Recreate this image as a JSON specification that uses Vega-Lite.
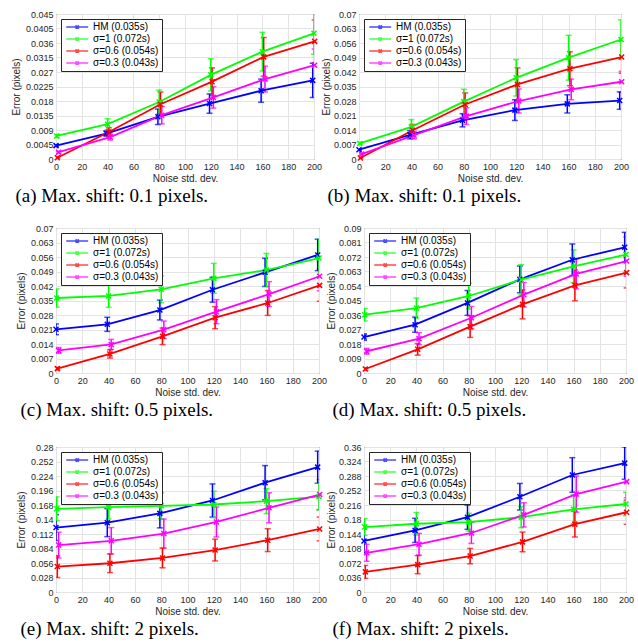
{
"$schema": "https://vega.github.io/schema/vega-lite/v6.json",
"padding": {"left": 10, "top": 9, "right": 0, "bottom": 0},
"background": "white",
"config": {
 "font": "Liberation Sans",
 "view": {"stroke": "#262626", "strokeWidth": 1},
 "axis": {"domain": false, "ticks": false, "grid": true, "gridColor": "#e3e3e3", "gridWidth": 1, "labelFont": "Liberation Sans", "labelFontSize": 9, "labelColor": "#262626", "labelPadding": 3, "labelOverlap": false, "labelFlush": false, "titleFont": "Liberation Sans", "titleFontSize": 10, "titleFontWeight": "normal", "titleColor": "#262626"},
 "axisX": {"titlePadding": 2, "values": [0,20,40,60,80,100,120,140,160,180,200], "format": "d"},
 "axisY": {"titlePadding": 4, "format": ".6~g"},
 "legend": {"orient": "top-left", "offset": 5, "fillColor": "white", "strokeColor": "#262626", "padding": 3, "labelFont": "Liberation Sans", "labelFontSize": 10, "labelColor": "black", "symbolType": "M-1,0H7M2.4,-0.6L3.6,0.6M2.4,0.6L3.6,-0.6", "symbolSize": 30, "symbolStrokeWidth": 1.6, "rowPadding": 2, "labelOffset": 19},
 "title": {"orient": "bottom", "anchor": "start", "frame": "bounds", "font": "Liberation Serif", "fontSize": 19, "fontWeight": "normal", "color": "black", "offset": 4}
},
"datasets": {
 "a": [
  {"s":"HM (0.035s)","x":0,"y":0.00415,"e":0.0003},{"s":"HM (0.035s)","x":39,"y":0.0079,"e":0.0008},{"s":"HM (0.035s)","x":79,"y":0.0131,"e":0.0024},{"s":"HM (0.035s)","x":119,"y":0.0172,"e":0.003},{"s":"HM (0.035s)","x":159,"y":0.0212,"e":0.0036},{"s":"HM (0.035s)","x":199,"y":0.0244,"e":0.0053},
  {"s":"σ=1 (0.072s)","x":0.5,"y":0.00715,"e":0.0005},{"s":"σ=1 (0.072s)","x":40,"y":0.0108,"e":0.0017},{"s":"σ=1 (0.072s)","x":80,"y":0.0177,"e":0.0037},{"s":"σ=1 (0.072s)","x":120,"y":0.0261,"e":0.005},{"s":"σ=1 (0.072s)","x":160,"y":0.0333,"e":0.006},{"s":"σ=1 (0.072s)","x":200,"y":0.039,"e":0.0065},
  {"s":"σ=0.6 (0.054s)","x":1,"y":0.0004,"e":0.0002},{"s":"σ=0.6 (0.054s)","x":41,"y":0.0084,"e":0.0013},{"s":"σ=0.6 (0.054s)","x":81,"y":0.017,"e":0.0038},{"s":"σ=0.6 (0.054s)","x":121,"y":0.024,"e":0.0043},{"s":"σ=0.6 (0.054s)","x":161,"y":0.0317,"e":0.006},{"s":"σ=0.6 (0.054s)","x":200.5,"y":0.0365,"e":0.0066},
  {"s":"σ=0.3 (0.043s)","x":2,"y":0.0021,"e":0.0003},{"s":"σ=0.3 (0.043s)","x":42,"y":0.0068,"e":0.0009},{"s":"σ=0.3 (0.043s)","x":82,"y":0.0136,"e":0.0027},{"s":"σ=0.3 (0.043s)","x":122,"y":0.0191,"e":0.0033},{"s":"σ=0.3 (0.043s)","x":162,"y":0.0248,"e":0.004},{"s":"σ=0.3 (0.043s)","x":200.5,"y":0.0291,"e":0.005}
 ],
 "b": [
  {"s":"HM (0.035s)","x":0,"y":0.0045,"e":0.0004},{"s":"HM (0.035s)","x":39,"y":0.0117,"e":0.002},{"s":"HM (0.035s)","x":79,"y":0.0187,"e":0.0032},{"s":"HM (0.035s)","x":119,"y":0.0236,"e":0.005},{"s":"HM (0.035s)","x":159,"y":0.0266,"e":0.0044},{"s":"HM (0.035s)","x":199,"y":0.0282,"e":0.0042},
  {"s":"σ=1 (0.072s)","x":0.5,"y":0.0075,"e":0.0005},{"s":"σ=1 (0.072s)","x":40,"y":0.0155,"e":0.0035},{"s":"σ=1 (0.072s)","x":80,"y":0.0277,"e":0.006},{"s":"σ=1 (0.072s)","x":120,"y":0.0392,"e":0.0088},{"s":"σ=1 (0.072s)","x":160,"y":0.0489,"e":0.0108},{"s":"σ=1 (0.072s)","x":200,"y":0.0577,"e":0.0095},
  {"s":"σ=0.6 (0.054s)","x":1,"y":0.0005,"e":0.0003},{"s":"σ=0.6 (0.054s)","x":41,"y":0.0139,"e":0.0028},{"s":"σ=0.6 (0.054s)","x":81,"y":0.0263,"e":0.0056},{"s":"σ=0.6 (0.054s)","x":121,"y":0.036,"e":0.008},{"s":"σ=0.6 (0.054s)","x":161,"y":0.0436,"e":0.0082},{"s":"σ=0.6 (0.054s)","x":200.5,"y":0.0492,"e":0.0078},
  {"s":"σ=0.3 (0.043s)","x":2,"y":0.0024,"e":0.0004},{"s":"σ=0.3 (0.043s)","x":42,"y":0.0115,"e":0.0018},{"s":"σ=0.3 (0.043s)","x":82,"y":0.0207,"e":0.004},{"s":"σ=0.3 (0.043s)","x":122,"y":0.028,"e":0.0058},{"s":"σ=0.3 (0.043s)","x":162,"y":0.0336,"e":0.005},{"s":"σ=0.3 (0.043s)","x":200.5,"y":0.0373,"e":0.005}
 ],
 "c": [
  {"s":"HM (0.035s)","x":0,"y":0.0211,"e":0.0026},{"s":"HM (0.035s)","x":39,"y":0.0235,"e":0.0034},{"s":"HM (0.035s)","x":79,"y":0.0304,"e":0.0048},{"s":"HM (0.035s)","x":119,"y":0.0402,"e":0.006},{"s":"HM (0.035s)","x":159,"y":0.0486,"e":0.0068},{"s":"HM (0.035s)","x":199,"y":0.057,"e":0.0076},
  {"s":"σ=1 (0.072s)","x":0.5,"y":0.0362,"e":0.0044},{"s":"σ=1 (0.072s)","x":40,"y":0.0372,"e":0.0055},{"s":"σ=1 (0.072s)","x":80,"y":0.0404,"e":0.0065},{"s":"σ=1 (0.072s)","x":120,"y":0.0457,"e":0.0072},{"s":"σ=1 (0.072s)","x":160,"y":0.0497,"e":0.008},{"s":"σ=1 (0.072s)","x":200,"y":0.0555,"e":0.009},
  {"s":"σ=0.6 (0.054s)","x":1,"y":0.0021,"e":0.0006},{"s":"σ=0.6 (0.054s)","x":41,"y":0.0092,"e":0.002},{"s":"σ=0.6 (0.054s)","x":81,"y":0.0177,"e":0.004},{"s":"σ=0.6 (0.054s)","x":121,"y":0.0267,"e":0.0053},{"s":"σ=0.6 (0.054s)","x":161,"y":0.0338,"e":0.006},{"s":"σ=0.6 (0.054s)","x":200.5,"y":0.0423,"e":0.0077},
  {"s":"σ=0.3 (0.043s)","x":2,"y":0.0109,"e":0.0014},{"s":"σ=0.3 (0.043s)","x":42,"y":0.0138,"e":0.0024},{"s":"σ=0.3 (0.043s)","x":82,"y":0.0209,"e":0.0042},{"s":"σ=0.3 (0.043s)","x":122,"y":0.0296,"e":0.0058},{"s":"σ=0.3 (0.043s)","x":162,"y":0.0381,"e":0.006},{"s":"σ=0.3 (0.043s)","x":200.5,"y":0.0467,"e":0.007}
 ],
 "d": [
  {"s":"HM (0.035s)","x":0,"y":0.0223,"e":0.002},{"s":"HM (0.035s)","x":39,"y":0.03,"e":0.0047},{"s":"HM (0.035s)","x":79,"y":0.0435,"e":0.0077},{"s":"HM (0.035s)","x":119,"y":0.0581,"e":0.0083},{"s":"HM (0.035s)","x":159,"y":0.0703,"e":0.0098},{"s":"HM (0.035s)","x":199,"y":0.078,"e":0.0093},
  {"s":"σ=1 (0.072s)","x":0.5,"y":0.0362,"e":0.0039},{"s":"σ=1 (0.072s)","x":40,"y":0.0403,"e":0.0062},{"s":"σ=1 (0.072s)","x":80,"y":0.0478,"e":0.008},{"s":"σ=1 (0.072s)","x":120,"y":0.0579,"e":0.0094},{"s":"σ=1 (0.072s)","x":160,"y":0.0662,"e":0.0102},{"s":"σ=1 (0.072s)","x":200,"y":0.0735,"e":0.011},
  {"s":"σ=0.6 (0.054s)","x":1,"y":0.0025,"e":0.0007},{"s":"σ=0.6 (0.054s)","x":41,"y":0.0147,"e":0.0036},{"s":"σ=0.6 (0.054s)","x":81,"y":0.0288,"e":0.0067},{"s":"σ=0.6 (0.054s)","x":121,"y":0.0426,"e":0.009},{"s":"σ=0.6 (0.054s)","x":161,"y":0.0544,"e":0.0096},{"s":"σ=0.6 (0.054s)","x":200.5,"y":0.0623,"e":0.0095},
  {"s":"σ=0.3 (0.043s)","x":2,"y":0.0135,"e":0.0018},{"s":"σ=0.3 (0.043s)","x":42,"y":0.0213,"e":0.0037},{"s":"σ=0.3 (0.043s)","x":82,"y":0.0343,"e":0.007},{"s":"σ=0.3 (0.043s)","x":122,"y":0.0486,"e":0.0076},{"s":"σ=0.3 (0.043s)","x":162,"y":0.0615,"e":0.0093},{"s":"σ=0.3 (0.043s)","x":200.5,"y":0.0695,"e":0.0095}
 ],
 "e": [
  {"s":"HM (0.035s)","x":0,"y":0.1244,"e":0.025},{"s":"HM (0.035s)","x":39,"y":0.1339,"e":0.027},{"s":"HM (0.035s)","x":79,"y":0.1518,"e":0.028},{"s":"HM (0.035s)","x":119,"y":0.1767,"e":0.032},{"s":"HM (0.035s)","x":159,"y":0.2111,"e":0.033},{"s":"HM (0.035s)","x":199,"y":0.2411,"e":0.031},
  {"s":"σ=1 (0.072s)","x":0.5,"y":0.1607,"e":0.023},{"s":"σ=1 (0.072s)","x":40,"y":0.1639,"e":0.023},{"s":"σ=1 (0.072s)","x":80,"y":0.1665,"e":0.025},{"s":"σ=1 (0.072s)","x":120,"y":0.169,"e":0.0255},{"s":"σ=1 (0.072s)","x":160,"y":0.1754,"e":0.024},{"s":"σ=1 (0.072s)","x":200,"y":0.1843,"e":0.026},
  {"s":"σ=0.6 (0.054s)","x":1,"y":0.0491,"e":0.021},{"s":"σ=0.6 (0.054s)","x":41,"y":0.0555,"e":0.018},{"s":"σ=0.6 (0.054s)","x":81,"y":0.0657,"e":0.019},{"s":"σ=0.6 (0.054s)","x":121,"y":0.081,"e":0.021},{"s":"σ=0.6 (0.054s)","x":161,"y":0.1001,"e":0.022},{"s":"σ=0.6 (0.054s)","x":200.5,"y":0.1218,"e":0.023},
  {"s":"σ=0.3 (0.043s)","x":2,"y":0.0906,"e":0.025},{"s":"σ=0.3 (0.043s)","x":42,"y":0.0989,"e":0.0255},{"s":"σ=0.3 (0.043s)","x":82,"y":0.1129,"e":0.028},{"s":"σ=0.3 (0.043s)","x":122,"y":0.1352,"e":0.029},{"s":"σ=0.3 (0.043s)","x":162,"y":0.1626,"e":0.029},{"s":"σ=0.3 (0.043s)","x":200.5,"y":0.1882,"e":0.029}
 ],
 "f": [
  {"s":"HM (0.035s)","x":0,"y":0.1268,"e":0.03},{"s":"HM (0.035s)","x":39,"y":0.153,"e":0.03},{"s":"HM (0.035s)","x":79,"y":0.1857,"e":0.03},{"s":"HM (0.035s)","x":119,"y":0.2365,"e":0.033},{"s":"HM (0.035s)","x":159,"y":0.2905,"e":0.043},{"s":"HM (0.035s)","x":199,"y":0.32,"e":0.04},
  {"s":"σ=1 (0.072s)","x":0.5,"y":0.1612,"e":0.021},{"s":"σ=1 (0.072s)","x":40,"y":0.1694,"e":0.028},{"s":"σ=1 (0.072s)","x":80,"y":0.1735,"e":0.022},{"s":"σ=1 (0.072s)","x":120,"y":0.1857,"e":0.026},{"s":"σ=1 (0.072s)","x":160,"y":0.2054,"e":0.036},{"s":"σ=1 (0.072s)","x":200,"y":0.2185,"e":0.029},
  {"s":"σ=0.6 (0.054s)","x":1,"y":0.0499,"e":0.016},{"s":"σ=0.6 (0.054s)","x":41,"y":0.0679,"e":0.0225},{"s":"σ=0.6 (0.054s)","x":81,"y":0.0892,"e":0.019},{"s":"σ=0.6 (0.054s)","x":121,"y":0.1244,"e":0.0245},{"s":"σ=0.6 (0.054s)","x":161,"y":0.1685,"e":0.032},{"s":"σ=0.6 (0.054s)","x":200.5,"y":0.198,"e":0.03},
  {"s":"σ=0.3 (0.043s)","x":2,"y":0.0974,"e":0.021},{"s":"σ=0.3 (0.043s)","x":42,"y":0.1186,"e":0.027},{"s":"σ=0.3 (0.043s)","x":82,"y":0.1465,"e":0.026},{"s":"σ=0.3 (0.043s)","x":122,"y":0.1915,"e":0.03},{"s":"σ=0.3 (0.043s)","x":162,"y":0.243,"e":0.045},{"s":"σ=0.3 (0.043s)","x":200.5,"y":0.2741,"e":0.04}
 ]
},
"resolve": {"scale": {"color": "independent"}, "legend": {"color": "independent"}},
"spacing": 16,
"vconcat": [
 {"hconcat": [
  {"width": 258, "height": 145, "title": {"text": "(a) Max. shift: 0.1 pixels.", "dx": 4}, "data": {"name": "a"},
   "encoding": {"x": {"field": "x", "type": "quantitative", "scale": {"domain": [0,200]}, "axis": {"title": "Noise std. dev."}},
    "y": {"field": "y", "type": "quantitative", "scale": {"domain": [0,0.045]}, "axis": {"title": "Error (pixels)", "values": [0,0.0045,0.009,0.0135,0.018,0.0225,0.027,0.0315,0.036,0.0405,0.045]}},
    "color": {"field": "s", "type": "nominal", "scale": {"domain": ["HM (0.035s)","σ=1 (0.072s)","σ=0.6 (0.054s)","σ=0.3 (0.043s)"], "range": ["#0000ff","#00ff00","#ff0000","#ff00ff"]}, "legend": {"title": null}}},
   "layer": [
    {"mark": {"type": "errorbar", "ticks": {"size": 6}, "thickness": 1.5, "clip": true}, "encoding": {"yError": {"field": "e"}}},
    {"mark": {"type": "line", "strokeWidth": 1.8}},
    {"mark": {"type": "point", "shape": "M-1,-1L1,1M-1,1L1,-1", "size": 25, "strokeWidth": 1.5, "filled": false, "opacity": 1}}
   ]},
  {"width": 262, "height": 145, "title": {"text": "(b) Max. shift: 0.1 pixels.", "dx": 6}, "data": {"name": "b"},
   "encoding": {"x": {"field": "x", "type": "quantitative", "scale": {"domain": [0,200]}, "axis": {"title": "Noise std. dev."}},
    "y": {"field": "y", "type": "quantitative", "scale": {"domain": [0,0.07]}, "axis": {"title": "Error (pixels)", "titlePadding": 2, "values": [0,0.007,0.014,0.021,0.028,0.035,0.042,0.049,0.056,0.063,0.07]}},
    "color": {"field": "s", "type": "nominal", "scale": {"domain": ["HM (0.035s)","σ=1 (0.072s)","σ=0.6 (0.054s)","σ=0.3 (0.043s)"], "range": ["#0000ff","#00ff00","#ff0000","#ff00ff"]}, "legend": {"title": null}}},
   "layer": [
    {"mark": {"type": "errorbar", "ticks": {"size": 6}, "thickness": 1.5, "clip": true}, "encoding": {"yError": {"field": "e"}}},
    {"mark": {"type": "line", "strokeWidth": 1.8}},
    {"mark": {"type": "point", "shape": "M-1,-1L1,1M-1,1L1,-1", "size": 25, "strokeWidth": 1.5, "filled": false, "opacity": 1}}
   ]}
 ], "spacing": -3, "resolve": {"scale": {"color": "independent"}, "legend": {"color": "independent"}}},
 {"spacing": 21, "resolve": {"scale": {"color": "independent"}, "legend": {"color": "independent"}}, "vconcat": [
 {"hconcat": [
  {"width": 263, "height": 145, "title": {"text": "(c) Max. shift: 0.5 pixels.", "dx": 4}, "data": {"name": "c"},
   "encoding": {"x": {"field": "x", "type": "quantitative", "scale": {"domain": [0,200]}, "axis": {"title": "Noise std. dev."}},
    "y": {"field": "y", "type": "quantitative", "scale": {"domain": [0,0.07]}, "axis": {"title": "Error (pixels)", "values": [0,0.007,0.014,0.021,0.028,0.035,0.042,0.049,0.056,0.063,0.07]}},
    "color": {"field": "s", "type": "nominal", "scale": {"domain": ["HM (0.035s)","σ=1 (0.072s)","σ=0.6 (0.054s)","σ=0.3 (0.043s)"], "range": ["#0000ff","#00ff00","#ff0000","#ff00ff"]}, "legend": {"title": null}}},
   "layer": [
    {"mark": {"type": "errorbar", "ticks": {"size": 6}, "thickness": 1.5, "clip": true}, "encoding": {"yError": {"field": "e"}}},
    {"mark": {"type": "line", "strokeWidth": 1.8}},
    {"mark": {"type": "point", "shape": "M-1,-1L1,1M-1,1L1,-1", "size": 25, "strokeWidth": 1.5, "filled": false, "opacity": 1}}
   ]},
  {"width": 262, "height": 145, "title": {"text": "(d) Max. shift: 0.5 pixels.", "dx": 6}, "data": {"name": "d"},
   "encoding": {"x": {"field": "x", "type": "quantitative", "scale": {"domain": [0,200]}, "axis": {"title": "Noise std. dev."}},
    "y": {"field": "y", "type": "quantitative", "scale": {"domain": [0,0.09]}, "axis": {"title": "Error (pixels)", "titlePadding": 2, "values": [0,0.009,0.018,0.027,0.036,0.045,0.054,0.063,0.072,0.081,0.09]}},
    "color": {"field": "s", "type": "nominal", "scale": {"domain": ["HM (0.035s)","σ=1 (0.072s)","σ=0.6 (0.054s)","σ=0.3 (0.043s)"], "range": ["#0000ff","#00ff00","#ff0000","#ff00ff"]}, "legend": {"title": null}}},
   "layer": [
    {"mark": {"type": "errorbar", "ticks": {"size": 6}, "thickness": 1.5, "clip": true}, "encoding": {"yError": {"field": "e"}}},
    {"mark": {"type": "line", "strokeWidth": 1.8}},
    {"mark": {"type": "point", "shape": "M-1,-1L1,1M-1,1L1,-1", "size": 25, "strokeWidth": 1.5, "filled": false, "opacity": 1}}
   ]}
 ], "spacing": -3, "resolve": {"scale": {"color": "independent"}, "legend": {"color": "independent"}}},
 {"hconcat": [
  {"width": 263, "height": 145, "title": {"text": "(e) Max. shift: 2 pixels.", "dx": 4}, "data": {"name": "e"},
   "encoding": {"x": {"field": "x", "type": "quantitative", "scale": {"domain": [0,200]}, "axis": {"title": "Noise std. dev."}},
    "y": {"field": "y", "type": "quantitative", "scale": {"domain": [0,0.28]}, "axis": {"title": "Error (pixels)", "values": [0,0.028,0.056,0.084,0.112,0.14,0.168,0.196,0.224,0.252,0.28]}},
    "color": {"field": "s", "type": "nominal", "scale": {"domain": ["HM (0.035s)","σ=1 (0.072s)","σ=0.6 (0.054s)","σ=0.3 (0.043s)"], "range": ["#0000ff","#00ff00","#ff0000","#ff00ff"]}, "legend": {"title": null}}},
   "layer": [
    {"mark": {"type": "errorbar", "ticks": {"size": 6}, "thickness": 1.5, "clip": true}, "encoding": {"yError": {"field": "e"}}},
    {"mark": {"type": "line", "strokeWidth": 1.8}},
    {"mark": {"type": "point", "shape": "M-1,-1L1,1M-1,1L1,-1", "size": 25, "strokeWidth": 1.5, "filled": false, "opacity": 1}}
   ]},
  {"width": 262, "height": 145, "title": {"text": "(f) Max. shift: 2 pixels.", "dx": 6}, "data": {"name": "f"},
   "encoding": {"x": {"field": "x", "type": "quantitative", "scale": {"domain": [0,200]}, "axis": {"title": "Noise std. dev."}},
    "y": {"field": "y", "type": "quantitative", "scale": {"domain": [0,0.36]}, "axis": {"title": "Error (pixels)", "titlePadding": 2, "values": [0,0.036,0.072,0.108,0.144,0.18,0.216,0.252,0.288,0.324,0.36]}},
    "color": {"field": "s", "type": "nominal", "scale": {"domain": ["HM (0.035s)","σ=1 (0.072s)","σ=0.6 (0.054s)","σ=0.3 (0.043s)"], "range": ["#0000ff","#00ff00","#ff0000","#ff00ff"]}, "legend": {"title": null}}},
   "layer": [
    {"mark": {"type": "errorbar", "ticks": {"size": 6}, "thickness": 1.5, "clip": true}, "encoding": {"yError": {"field": "e"}}},
    {"mark": {"type": "line", "strokeWidth": 1.8}},
    {"mark": {"type": "point", "shape": "M-1,-1L1,1M-1,1L1,-1", "size": 25, "strokeWidth": 1.5, "filled": false, "opacity": 1}}
   ]}
 ], "spacing": -3, "resolve": {"scale": {"color": "independent"}, "legend": {"color": "independent"}}}
 ]}
]
}
